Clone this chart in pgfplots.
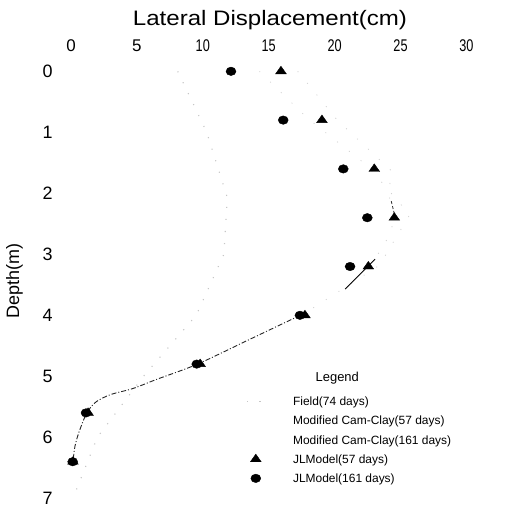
\documentclass[border=0pt]{standalone}
\usepackage{pgfplots}
\pgfplotsset{compat=1.18}
\usepackage{fontspec}
\setmainfont{Liberation Sans}
\usepackage{graphicx}

\pgfplotstableread{
x      y
12.14  0.0
16.10  0.8
20.66  1.6
22.48  2.4
21.17  3.2
17.37  4.0
9.54   4.8
1.14   5.6
0.13   6.4
}\jlLong

\pgfplotstableread{
x      y
15.93  0.0
19.04  0.8
23.01  1.6
24.53  2.4
22.56  3.2
17.75  4.0
9.80   4.8
1.30   5.6
0.15   6.4
}\jlShort

\begin{document}
\begin{tikzpicture}
\useasboundingbox (-57.8bp,-3.6bp) rectangle (449.2bp,504.4bp);
\begin{axis}[
  at={(0,0)}, anchor=south west,
  scale only axis, width=421.8bp, height=445.3bp,
  xmin=-1, xmax=31, ymin=-0.2, ymax=7.1, y dir=reverse,
  axis line style={draw=none}, major tick length=0pt,
  xtick={0,5,10,15,20,25,30}, ytick={0,1,2,3,4,5,6,7},
  xticklabel pos=upper,
  xticklabels={0,5,\scalebox{0.75}[1]{10},\scalebox{0.75}[1]{15},\scalebox{0.75}[1]{20},\scalebox{0.75}[1]{25},\scalebox{0.75}[1]{30}},
  xticklabel style={anchor=center, yshift=13bp, font=\fontsize{17}{20}\selectfont},
  yticklabel style={anchor=center, xshift=-10.3bp, font=\fontsize{18}{21}\selectfont},
  /pgf/number format/assume math mode=true,
  clip=false,
  legend cell align=left,
  legend style={at={(axis cs:13.32,5.257)}, anchor=north west, draw=none, fill=none,
    inner sep=0pt, row sep=0pt, font=\fontsize{12}{14}\selectfont,
    nodes={inner sep=0pt, text height=13.6bp, text depth=5.55bp},
    /tikz/every odd column/.append style={column sep=28.2bp}},
]
% field readings, 74 days
\addplot[gray!45, line width=1.1bp, dash pattern=on 1.1bp off 11bp]
  coordinates {(8.1,0) (10.3,1.0) (11.86,2.07) (11.6,3.0) (9.5,4.0) (5.5,5.0) (2.0,6.0) (0.15,7.0)};
\addlegendentry{Field(74 days)}
% Modified Cam-Clay, 57 days
\addplot[gray!35, line width=0.8bp, dash pattern=on 1bp off 14bp, legend image code/.code={}]
  coordinates {(17.2,0) (20.2,0.8) (24.4,1.65) (24.05,1.98) (24.6,2.4) (24.05,2.73) (23.0,3.1) (20.8,3.57)};
\addlegendentry{Modified Cam-Clay(57 days)}
% Modified Cam-Clay, 161 days
\addplot[gray!35, line width=0.8bp, dash pattern=on 1bp off 14bp, legend image code/.code={}]
  coordinates {(14.3,0) (17.9,0.76) (22.5,1.55) (25.7,2.35) (23.4,3.18) (17.5,4.0)};
\addlegendentry{Modified Cam-Clay(161 days)}
% JL model
\addplot[only marks, mark=triangle*, mark size=6.2bp, mark options={yscale=0.82, fill=black, draw=black}]
  table[x=x, y=y] {\jlShort};
\addlegendentry{JLModel(57 days)}
\addplot[only marks, mark=*, mark size=5bp, mark options={yscale=0.85, fill=black, draw=black}]
  table[x=x, y=y] {\jlLong};
\addlegendentry{JLModel(161 days)}
% darker stretches of the computed curves
\addplot[forget plot, black, line width=1bp]
  coordinates {(23.07,3.08) (20.8,3.57)};
\addplot[forget plot, black!80, line width=0.8bp, densely dashed]
  coordinates {(24.3,2.13) (24.6,2.4)};
\addplot[forget plot, black!85, line width=0.9bp, dash pattern=on 5bp off 2bp on 1bp off 2bp, smooth]
  coordinates {(17.4,4.0) (13.5,4.4) (9.6,4.8) (6.5,5.05) (4.7,5.2) (3.0,5.3) (1.9,5.42) (1.2,5.6) (0.6,5.92) (0.3,6.15) (0.15,6.4)};
\end{axis}
\node[anchor=base, font=\fontsize{21}{24}\selectfont] at (212.2bp,478.7bp) {\scalebox{1.15}[1]{Lateral Displacement(cm)}};
\node[anchor=base, rotate=90, font=\fontsize{18}{21}\selectfont] at (-38.8bp,223.4bp) {Depth(m)};
\node[anchor=base, font=\fontsize{13}{15}\selectfont] at (279.5bp,122.4bp) {Legend};
\end{tikzpicture}
\end{document}
